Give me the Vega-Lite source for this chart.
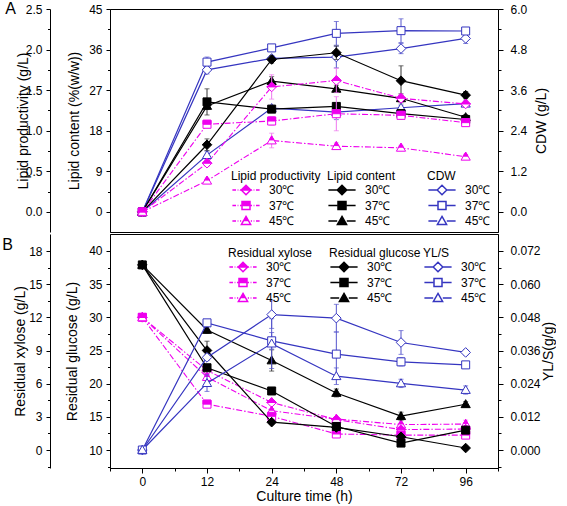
{
  "$schema": "https://vega.github.io/schema/vega-lite/v6.json",
  "padding": {"left": 1, "top": 0, "right": 0, "bottom": 0},
  "datasets": {
    "d": [
      {"g":"prod","temp":"30℃","i":0,"v":0,"e":0},{"g":"prod","temp":"30℃","i":1,"v":0.60,"e":0.04},{"g":"prod","temp":"30℃","i":2,"v":1.54,"e":0.15},{"g":"prod","temp":"30℃","i":3,"v":1.62,"e":0.15},{"g":"prod","temp":"30℃","i":4,"v":1.40,"e":0.05},{"g":"prod","temp":"30℃","i":5,"v":1.33,"e":0.03},
      {"g":"prod","temp":"37℃","i":0,"v":0,"e":0},{"g":"prod","temp":"37℃","i":1,"v":1.08,"e":0.04},{"g":"prod","temp":"37℃","i":2,"v":1.12,"e":0.05},{"g":"prod","temp":"37℃","i":3,"v":1.21,"e":0.21},{"g":"prod","temp":"37℃","i":4,"v":1.19,"e":0.05},{"g":"prod","temp":"37℃","i":5,"v":1.10,"e":0.03},
      {"g":"prod","temp":"45℃","i":0,"v":0,"e":0},{"g":"prod","temp":"45℃","i":1,"v":0.385,"e":0.03},{"g":"prod","temp":"45℃","i":2,"v":0.88,"e":0.09},{"g":"prod","temp":"45℃","i":3,"v":0.81,"e":0.04},{"g":"prod","temp":"45℃","i":4,"v":0.79,"e":0.03},{"g":"prod","temp":"45℃","i":5,"v":0.68,"e":0.03},
      {"g":"cont","temp":"30℃","i":0,"v":0,"e":0},{"g":"cont","temp":"30℃","i":1,"v":14.9,"e":1.3},{"g":"cont","temp":"30℃","i":2,"v":33.8,"e":0.8},{"g":"cont","temp":"30℃","i":3,"v":35.3,"e":1.5},{"g":"cont","temp":"30℃","i":4,"v":29.1,"e":3.3},{"g":"cont","temp":"30℃","i":5,"v":25.9,"e":0.8},
      {"g":"cont","temp":"37℃","i":0,"v":0,"e":0},{"g":"cont","temp":"37℃","i":1,"v":24.4,"e":2.9},{"g":"cont","temp":"37℃","i":2,"v":22.8,"e":0.6},{"g":"cont","temp":"37℃","i":3,"v":23.4,"e":0.8},{"g":"cont","temp":"37℃","i":4,"v":21.8,"e":0.8},{"g":"cont","temp":"37℃","i":5,"v":20.5,"e":0.6},
      {"g":"cont","temp":"45℃","i":0,"v":0,"e":0},{"g":"cont","temp":"45℃","i":1,"v":23.5,"e":0.8},{"g":"cont","temp":"45℃","i":2,"v":29.0,"e":1.0},{"g":"cont","temp":"45℃","i":3,"v":27.3,"e":0.8},{"g":"cont","temp":"45℃","i":4,"v":25.2,"e":1.0},{"g":"cont","temp":"45℃","i":5,"v":21.0,"e":0.6},
      {"g":"cdw","temp":"30℃","i":0,"v":0,"e":0},{"g":"cdw","temp":"30℃","i":1,"v":4.20,"e":0.12},{"g":"cdw","temp":"30℃","i":2,"v":4.54,"e":0.08},{"g":"cdw","temp":"30℃","i":3,"v":4.58,"e":0.32},{"g":"cdw","temp":"30℃","i":4,"v":4.83,"e":0.15},{"g":"cdw","temp":"30℃","i":5,"v":5.13,"e":0.15},
      {"g":"cdw","temp":"37℃","i":0,"v":0,"e":0},{"g":"cdw","temp":"37℃","i":1,"v":4.43,"e":0.15},{"g":"cdw","temp":"37℃","i":2,"v":4.85,"e":0.08},{"g":"cdw","temp":"37℃","i":3,"v":5.28,"e":0.35},{"g":"cdw","temp":"37℃","i":4,"v":5.36,"e":0.35},{"g":"cdw","temp":"37℃","i":5,"v":5.35,"e":0.07},
      {"g":"cdw","temp":"45℃","i":0,"v":0,"e":0},{"g":"cdw","temp":"45℃","i":1,"v":1.68,"e":0.12},{"g":"cdw","temp":"45℃","i":2,"v":3.07,"e":0.08},{"g":"cdw","temp":"45℃","i":3,"v":2.95,"e":0.22},{"g":"cdw","temp":"45℃","i":4,"v":3.08,"e":0.08},{"g":"cdw","temp":"45℃","i":5,"v":3.20,"e":0.08},
      {"g":"glc","temp":"30℃","i":0,"v":37.9,"e":0.3},{"g":"glc","temp":"30℃","i":1,"v":25.0,"e":1.4},{"g":"glc","temp":"30℃","i":2,"v":14.2,"e":0.3},{"g":"glc","temp":"30℃","i":3,"v":13.4,"e":0.3},{"g":"glc","temp":"30℃","i":4,"v":12.0,"e":0.3},{"g":"glc","temp":"30℃","i":5,"v":10.3,"e":0.3},
      {"g":"glc","temp":"37℃","i":0,"v":37.9,"e":0.3},{"g":"glc","temp":"37℃","i":1,"v":22.4,"e":0.4},{"g":"glc","temp":"37℃","i":2,"v":18.9,"e":0.3},{"g":"glc","temp":"37℃","i":3,"v":13.55,"e":0.3},{"g":"glc","temp":"37℃","i":4,"v":11.05,"e":0.3},{"g":"glc","temp":"37℃","i":5,"v":13.0,"e":0.3},
      {"g":"glc","temp":"45℃","i":0,"v":37.9,"e":0.3},{"g":"glc","temp":"45℃","i":1,"v":28.1,"e":0.5},{"g":"glc","temp":"45℃","i":2,"v":23.5,"e":1.6},{"g":"glc","temp":"45℃","i":3,"v":18.6,"e":0.6},{"g":"glc","temp":"45℃","i":4,"v":15.1,"e":0.6},{"g":"glc","temp":"45℃","i":5,"v":16.9,"e":0.4},
      {"g":"xyl","temp":"30℃","i":0,"v":12.0,"e":0.15},{"g":"xyl","temp":"30℃","i":1,"v":7.2,"e":0.3},{"g":"xyl","temp":"30℃","i":2,"v":4.3,"e":0.2},{"g":"xyl","temp":"30℃","i":3,"v":2.75,"e":0.2},{"g":"xyl","temp":"30℃","i":4,"v":1.85,"e":0.2},{"g":"xyl","temp":"30℃","i":5,"v":1.9,"e":0.2},
      {"g":"xyl","temp":"37℃","i":0,"v":12.0,"e":0.15},{"g":"xyl","temp":"37℃","i":1,"v":4.15,"e":0.2},{"g":"xyl","temp":"37℃","i":2,"v":3.05,"e":0.2},{"g":"xyl","temp":"37℃","i":3,"v":1.45,"e":0.2},{"g":"xyl","temp":"37℃","i":4,"v":1.35,"e":0.2},{"g":"xyl","temp":"37℃","i":5,"v":1.35,"e":0.2},
      {"g":"xyl","temp":"45℃","i":0,"v":12.0,"e":0.15},{"g":"xyl","temp":"45℃","i":1,"v":6.6,"e":0.3},{"g":"xyl","temp":"45℃","i":2,"v":3.55,"e":0.2},{"g":"xyl","temp":"45℃","i":3,"v":2.8,"e":0.2},{"g":"xyl","temp":"45℃","i":4,"v":2.3,"e":0.2},{"g":"xyl","temp":"45℃","i":5,"v":2.35,"e":0.35},
      {"g":"yls","temp":"30℃","i":0,"v":0,"e":0},{"g":"yls","temp":"30℃","i":1,"v":0.0335,"e":0.001},{"g":"yls","temp":"30℃","i":2,"v":0.049,"e":0.005},{"g":"yls","temp":"30℃","i":3,"v":0.0477,"e":0.005},{"g":"yls","temp":"30℃","i":4,"v":0.0389,"e":0.0043},{"g":"yls","temp":"30℃","i":5,"v":0.0353,"e":0.001},
      {"g":"yls","temp":"37℃","i":0,"v":0,"e":0},{"g":"yls","temp":"37℃","i":1,"v":0.046,"e":0.001},{"g":"yls","temp":"37℃","i":2,"v":0.0395,"e":0.003},{"g":"yls","temp":"37℃","i":3,"v":0.0347,"e":0.008},{"g":"yls","temp":"37℃","i":4,"v":0.0319,"e":0.0015},{"g":"yls","temp":"37℃","i":5,"v":0.0308,"e":0.001},
      {"g":"yls","temp":"45℃","i":0,"v":0,"e":0},{"g":"yls","temp":"45℃","i":1,"v":0.0242,"e":0.003},{"g":"yls","temp":"45℃","i":2,"v":0.0385,"e":0.009},{"g":"yls","temp":"45℃","i":3,"v":0.0267,"e":0.003},{"g":"yls","temp":"45℃","i":4,"v":0.0241,"e":0.0015},{"g":"yls","temp":"45℃","i":5,"v":0.0217,"e":0.0015}
    ]
  },
  "data": {"name": "d"},
  "vconcat": [
    {
      "width": 388, "height": 223,
      "title": {"text": "A", "anchor": "start", "frame": "bounds", "fontSize": 16, "fontWeight": "normal", "offset": -14, "dx": -11},
      "encoding": {"x": {"field": "i", "type": "quantitative", "scale": {"domain": [-0.5, 5.5], "nice": false, "zero": false}, "axis": null}},
      "layer": [
        {
          "transform": [{"filter": "datum.g==='cdw'"}],
          "encoding": {"y": {"field": "v", "type": "quantitative", "scale": {"domain": [-0.593, 6], "nice": false, "zero": false},
            "axis": {"orient": "right", "title": "CDW (g/L)", "titleAngle": 270, "titleBaseline": "top", "titlePadding": 8, "labelPadding": 7,
              "values": [0,0.6,1.2,1.8,2.4,3,3.6,4.2,4.8,5.4,6],
              "labelExpr": "abs(datum.value/1.2-round(datum.value/1.2))<1e-6 ? format(datum.value,'.1f') : ''",
              "tickSize": {"condition": {"test": "abs(datum.value/1.2-round(datum.value/1.2))<1e-6", "value": 5}, "value": 3}}}},
          "layer": [
            {"mark": {"type": "errorbar", "ticks": true, "color": "#5555cc"}, "encoding": {"yError": {"field": "e"}}},
            {"mark": {"type": "line", "color": "#3535c0", "strokeWidth": 1.2}, "encoding": {"detail": {"field": "temp"}}},
            {"mark": {"type": "point", "size": 64, "fill": "#ffffff", "stroke": "#3535c0", "strokeWidth": 1, "opacity": 1},
             "encoding": {"shape": {"field": "temp", "type": "nominal", "scale": {"domain": ["30℃","37℃","45℃"], "range": ["M-1.2,0L0,-1.2L1.2,0L0,1.2Z","M-1,-1H1V1H-1Z","M0,-1.15L1.15,0.85H-1.15Z"]}, "legend": null}}},
            {"transform": [{"filter": "false"}],
             "mark": {"type": "point", "size": 64, "fill": "#ffffff", "stroke": "#3535c0", "strokeWidth": 1, "opacity": 1},
             "encoding": {"shape": {"field": "temp", "type": "nominal", "scale": {"domain": ["30℃","37℃","45℃"], "range": ["M-3.4,0H-1.2M1.2,0H3.4M-1.2,0L0,-1.2L1.2,0L0,1.2Z","M-3.4,0H-1.2M1.2,0H3.4M-1,-1H1V1H-1Z","M-3.4,0H-1.2M1.2,0H3.4M0,-1.15L1.15,0.85H-1.15Z"]},
               "legend": {"title": "CDW", "orient": "none", "legendX": 317, "legendY": 162}}}}
          ],
          "resolve": {"scale": {"shape": "independent"}, "legend": {"shape": "independent"}}
        },
        {
          "transform": [{"filter": "datum.g==='cont'"}],
          "encoding": {"y": {"field": "v", "type": "quantitative", "scale": {"domain": [-4.45, 45], "nice": false, "zero": false},
            "axis": {"orient": "left", "title": "Lipid content (%(w/w))", "titlePadding": 7.5,
              "values": [0,4.5,9,13.5,18,22.5,27,31.5,36,40.5,45],
              "labelExpr": "datum.value%9===0 ? format(datum.value,'d') : ''",
              "tickSize": {"condition": {"test": "datum.value%9===0", "value": 4}, "value": 2.5}}}},
          "layer": [
            {"mark": {"type": "errorbar", "ticks": true, "color": "#333333"}, "encoding": {"yError": {"field": "e"}}},
            {"mark": {"type": "line", "color": "#000000", "strokeWidth": 1.2}, "encoding": {"detail": {"field": "temp"}}},
            {"mark": {"type": "point", "size": 64, "fill": "#000000", "stroke": "#000000", "strokeWidth": 1, "opacity": 1},
             "encoding": {"shape": {"field": "temp", "type": "nominal", "scale": {"domain": ["30℃","37℃","45℃"], "range": ["M-1.2,0L0,-1.2L1.2,0L0,1.2Z","M-1,-1H1V1H-1Z","M0,-1.15L1.15,0.85H-1.15Z"]}, "legend": null}}},
            {"transform": [{"filter": "false"}],
             "mark": {"type": "point", "size": 64, "fill": "#000000", "stroke": "#000000", "strokeWidth": 1, "opacity": 1},
             "encoding": {"shape": {"field": "temp", "type": "nominal", "scale": {"domain": ["30℃","37℃","45℃"], "range": ["M-3.4,0H-1.2M1.2,0H3.4M-1.2,0L0,-1.2L1.2,0L0,1.2Z","M-3.4,0H-1.2M1.2,0H3.4M-1,-1H1V1H-1Z","M-3.4,0H-1.2M1.2,0H3.4M0,-1.15L1.15,0.85H-1.15Z"]},
               "legend": {"title": "Lipid content", "orient": "none", "legendX": 217, "legendY": 162}}}}
          ],
          "resolve": {"scale": {"shape": "independent"}, "legend": {"shape": "independent"}}
        },
        {
          "transform": [{"filter": "datum.g==='prod'"}],
          "encoding": {"y": {"field": "v", "type": "quantitative", "scale": {"domain": [-0.247, 2.5], "nice": false, "zero": false},
            "axis": {"orient": "left", "offset": 60, "title": "Lipid productivity (g/L)", "titlePadding": -5,
              "values": [0,0.25,0.5,0.75,1,1.25,1.5,1.75,2,2.25,2.5],
              "labelExpr": "abs(datum.value*2-round(datum.value*2))<1e-6 ? format(datum.value,'.1f') : ''",
              "tickSize": {"condition": {"test": "abs(datum.value*2-round(datum.value*2))<1e-6", "value": 4}, "value": 2.5}}}},
          "layer": [
            {"mark": {"type": "errorbar", "ticks": true, "color": "#ee77ee"}, "encoding": {"yError": {"field": "e"}}},
            {"mark": {"type": "line", "color": "#ee00ee", "strokeWidth": 1.1, "strokeDash": [6, 2, 1.5, 2]}, "encoding": {"detail": {"field": "temp"}}},
            {"mark": {"type": "point", "size": 64, "fill": "#ffffff", "stroke": "#ee00ee", "strokeWidth": 1, "opacity": 1},
             "encoding": {"shape": {"field": "temp", "type": "nominal", "scale": {"domain": ["30℃","37℃","45℃"], "range": ["M-1.2,0L0,-1.2L1.2,0L0,1.2Z","M-1,-1H1V1H-1Z","M0,-1.15L1.15,0.85H-1.15Z"]}, "legend": null}}},
            {"mark": {"type": "point", "size": 64, "fill": "#ee00ee", "stroke": "#ee00ee", "strokeWidth": 1, "opacity": 1},
             "encoding": {"shape": {"field": "temp", "type": "nominal", "scale": {"domain": ["30℃","37℃","45℃"], "range": ["M-1.2,0L0,-1.2L1.2,0Z","M-1,-1H1V0H-1Z","M0,-1.15L0.575,-0.15H-0.575Z"]}, "legend": null}}},
            {"transform": [{"filter": "false"}],
             "mark": {"type": "point", "size": 64, "fill": "#ee00ee", "stroke": "#ee00ee", "strokeWidth": 1, "opacity": 1},
             "encoding": {"shape": {"field": "temp", "type": "nominal", "scale": {"domain": ["30℃","37℃","45℃"], "range": [
               "M-3.4,0H-2.5M-2.1,0H-1.9M-1.5,0H-1.2M1.2,0H1.5M1.9,0H2.1M2.5,0H3.4M-1.2,0L0,-1.2L1.2,0ZM-1.2,0L0,1.2L1.2,0L0,1.2Z",
               "M-3.4,0H-2.5M-2.1,0H-1.9M-1.5,0H-1.2M1.2,0H1.5M1.9,0H2.1M2.5,0H3.4M-1,-1H1V0H-1ZM-1,0V1H1V0V1H-1Z",
               "M-3.4,0H-2.5M-2.1,0H-1.9M-1.5,0H-1.2M1.2,0H1.5M1.9,0H2.1M2.5,0H3.4M0,-1.15L0.575,-0.15H-0.575ZM-0.575,-0.15L-1.15,0.85H1.15L0.575,-0.15L1.15,0.85H-1.15Z"]},
               "legend": {"title": "Lipid productivity", "orient": "none", "legendX": 121, "legendY": 162}}}}
          ],
          "resolve": {"scale": {"shape": "independent"}, "legend": {"shape": "independent"}}
        }
      ],
      "resolve": {"scale": {"y": "independent", "shape": "independent"}, "legend": {"shape": "independent"}}
    },
    {
      "width": 388, "height": 234,
      "title": {"text": "B", "anchor": "start", "frame": "bounds", "fontSize": 16, "fontWeight": "normal", "offset": -19, "dx": -11},
      "encoding": {"x": {"field": "i", "type": "quantitative", "scale": {"domain": [-0.5, 5.5], "nice": false, "zero": false},
        "axis": {"title": "Culture time (h)", "values": [-0.5,0,0.5,1,1.5,2,2.5,3,3.5,4,4.5,5,5.5],
          "labelExpr": "datum.value%1===0 ? ['0','12','24','48','72','96'][datum.value] : ''",
          "tickSize": {"condition": {"test": "datum.value%1===0", "value": 5}, "value": 3}, "labelPadding": 3, "titlePadding": 2}}},
      "layer": [
        {
          "transform": [{"filter": "datum.g==='xyl'"}],
          "encoding": {"y": {"field": "v", "type": "quantitative", "scale": {"domain": [-1.626, 19.54], "nice": false, "zero": false},
            "axis": {"orient": "left", "offset": 60, "title": "Residual xylose (g/L)", "titlePadding": 1.5,
              "values": [-1.5,0,1.5,3,4.5,6,7.5,9,10.5,12,13.5,15,16.5,18],
              "labelExpr": "datum.value%3===0 ? format(datum.value,'d') : ''",
              "tickSize": {"condition": {"test": "datum.value%3===0", "value": 4}, "value": 2.5}}}},
          "layer": [
            {"mark": {"type": "errorbar", "ticks": true, "color": "#ee77ee"}, "encoding": {"yError": {"field": "e"}}},
            {"mark": {"type": "line", "color": "#ee00ee", "strokeWidth": 1.1, "strokeDash": [6, 2, 1.5, 2]}, "encoding": {"detail": {"field": "temp"}}},
            {"mark": {"type": "point", "size": 64, "fill": "#ffffff", "stroke": "#ee00ee", "strokeWidth": 1, "opacity": 1},
             "encoding": {"shape": {"field": "temp", "type": "nominal", "scale": {"domain": ["30℃","37℃","45℃"], "range": ["M-1.2,0L0,-1.2L1.2,0L0,1.2Z","M-1,-1H1V1H-1Z","M0,-1.15L1.15,0.85H-1.15Z"]}, "legend": null}}},
            {"mark": {"type": "point", "size": 64, "fill": "#ee00ee", "stroke": "#ee00ee", "strokeWidth": 1, "opacity": 1},
             "encoding": {"shape": {"field": "temp", "type": "nominal", "scale": {"domain": ["30℃","37℃","45℃"], "range": ["M-1.2,0L0,-1.2L1.2,0Z","M-1,-1H1V0H-1Z","M0,-1.15L0.575,-0.15H-0.575Z"]}, "legend": null}}},
            {"transform": [{"filter": "false"}],
             "mark": {"type": "point", "size": 64, "fill": "#ee00ee", "stroke": "#ee00ee", "strokeWidth": 1, "opacity": 1},
             "encoding": {"shape": {"field": "temp", "type": "nominal", "scale": {"domain": ["30℃","37℃","45℃"], "range": [
               "M-3.4,0H-2.5M-2.1,0H-1.9M-1.5,0H-1.2M1.2,0H1.5M1.9,0H2.1M2.5,0H3.4M-1.2,0L0,-1.2L1.2,0ZM-1.2,0L0,1.2L1.2,0L0,1.2Z",
               "M-3.4,0H-2.5M-2.1,0H-1.9M-1.5,0H-1.2M1.2,0H1.5M1.9,0H2.1M2.5,0H3.4M-1,-1H1V0H-1ZM-1,0V1H1V0V1H-1Z",
               "M-3.4,0H-2.5M-2.1,0H-1.9M-1.5,0H-1.2M1.2,0H1.5M1.9,0H2.1M2.5,0H3.4M0,-1.15L0.575,-0.15H-0.575ZM-0.575,-0.15L-1.15,0.85H1.15L0.575,-0.15L1.15,0.85H-1.15Z"]},
               "legend": {"title": "Residual xylose", "orient": "none", "legendX": 118, "legendY": 14}}}}
          ],
          "resolve": {"scale": {"shape": "independent"}, "legend": {"shape": "independent"}}
        },
        {
          "transform": [{"filter": "datum.g==='glc'"}],
          "encoding": {"y": {"field": "v", "type": "quantitative", "scale": {"domain": [7.29, 42.56], "nice": false, "zero": false},
            "axis": {"orient": "left", "title": "Residual glucose (g/L)", "titlePadding": 9,
              "values": [7.5,10,12.5,15,17.5,20,22.5,25,27.5,30,32.5,35,37.5,40],
              "labelExpr": "datum.value%5===0 ? format(datum.value,'d') : ''",
              "tickSize": {"condition": {"test": "datum.value%5===0", "value": 4}, "value": 2.5}}}},
          "layer": [
            {"mark": {"type": "errorbar", "ticks": true, "color": "#333333"}, "encoding": {"yError": {"field": "e"}}},
            {"mark": {"type": "line", "color": "#000000", "strokeWidth": 1.2}, "encoding": {"detail": {"field": "temp"}}},
            {"mark": {"type": "point", "size": 64, "fill": "#000000", "stroke": "#000000", "strokeWidth": 1, "opacity": 1},
             "encoding": {"shape": {"field": "temp", "type": "nominal", "scale": {"domain": ["30℃","37℃","45℃"], "range": ["M-1.2,0L0,-1.2L1.2,0L0,1.2Z","M-1,-1H1V1H-1Z","M0,-1.15L1.15,0.85H-1.15Z"]}, "legend": null}}},
            {"transform": [{"filter": "false"}],
             "mark": {"type": "point", "size": 64, "fill": "#000000", "stroke": "#000000", "strokeWidth": 1, "opacity": 1},
             "encoding": {"shape": {"field": "temp", "type": "nominal", "scale": {"domain": ["30℃","37℃","45℃"], "range": ["M-3.4,0H-1.2M1.2,0H3.4M-1.2,0L0,-1.2L1.2,0L0,1.2Z","M-3.4,0H-1.2M1.2,0H3.4M-1,-1H1V1H-1Z","M-3.4,0H-1.2M1.2,0H3.4M0,-1.15L1.15,0.85H-1.15Z"]},
               "legend": {"title": "Residual glucose", "orient": "none", "legendX": 219, "legendY": 14}}}}
          ],
          "resolve": {"scale": {"shape": "independent"}, "legend": {"shape": "independent"}}
        },
        {
          "transform": [{"filter": "datum.g==='yls'"}],
          "encoding": {"y": {"field": "v", "type": "quantitative", "scale": {"domain": [-0.0065, 0.07814], "nice": false, "zero": false},
            "axis": {"orient": "right", "title": "YL/S(g/g)", "titleAngle": 270, "titleBaseline": "top", "titlePadding": 1, "labelPadding": 7,
              "values": [-0.006,0,0.006,0.012,0.018,0.024,0.03,0.036,0.042,0.048,0.054,0.06,0.066,0.072],
              "labelExpr": "abs(datum.value/0.012-round(datum.value/0.012))<1e-6 && datum.value > -0.001 ? format(datum.value,'.3f') : ''",
              "tickSize": {"condition": {"test": "abs(datum.value/0.012-round(datum.value/0.012))<1e-6", "value": 5}, "value": 3}}}},
          "layer": [
            {"mark": {"type": "errorbar", "ticks": true, "color": "#5555cc"}, "encoding": {"yError": {"field": "e"}}},
            {"mark": {"type": "line", "color": "#3535c0", "strokeWidth": 1.2}, "encoding": {"detail": {"field": "temp"}}},
            {"mark": {"type": "point", "size": 64, "fill": "#ffffff", "stroke": "#3535c0", "strokeWidth": 1, "opacity": 1},
             "encoding": {"shape": {"field": "temp", "type": "nominal", "scale": {"domain": ["30℃","37℃","45℃"], "range": ["M-1.2,0L0,-1.2L1.2,0L0,1.2Z","M-1,-1H1V1H-1Z","M0,-1.15L1.15,0.85H-1.15Z"]}, "legend": null}}},
            {"transform": [{"filter": "false"}],
             "mark": {"type": "point", "size": 64, "fill": "#ffffff", "stroke": "#3535c0", "strokeWidth": 1, "opacity": 1},
             "encoding": {"shape": {"field": "temp", "type": "nominal", "scale": {"domain": ["30℃","37℃","45℃"], "range": ["M-3.4,0H-1.2M1.2,0H3.4M-1.2,0L0,-1.2L1.2,0L0,1.2Z","M-3.4,0H-1.2M1.2,0H3.4M-1,-1H1V1H-1Z","M-3.4,0H-1.2M1.2,0H3.4M0,-1.15L1.15,0.85H-1.15Z"]},
               "legend": {"title": "YL/S", "orient": "none", "legendX": 313, "legendY": 14}}}}
          ],
          "resolve": {"scale": {"shape": "independent"}, "legend": {"shape": "independent"}}
        }
      ],
      "resolve": {"scale": {"y": "independent", "shape": "independent"}, "legend": {"shape": "independent"}}
    }
  ],
  "spacing": 0,
  "config": {
    "font": "Liberation Sans",
    "view": {"stroke": "#000000", "strokeWidth": 1},
    "axis": {"grid": false, "domainColor": "#000000", "tickColor": "#000000", "labelColor": "#000000", "titleColor": "#000000",
      "labelFontSize": 12, "titleFontSize": 14, "titleFontWeight": "normal", "labelPadding": 4, "domainWidth": 1, "tickWidth": 1, "labelFlush": false, "labelOverlap": false},
    "legend": {"titleFontSize": 12, "titleFontWeight": "normal", "labelFontSize": 12, "titleColor": "#000000", "labelColor": "#000000",
      "padding": 0, "symbolSize": 64, "rowPadding": 0.5, "titlePadding": 1, "symbolOffset": 9, "labelOffset": 17},
    "title": {"color": "#000000"}
  }
}
